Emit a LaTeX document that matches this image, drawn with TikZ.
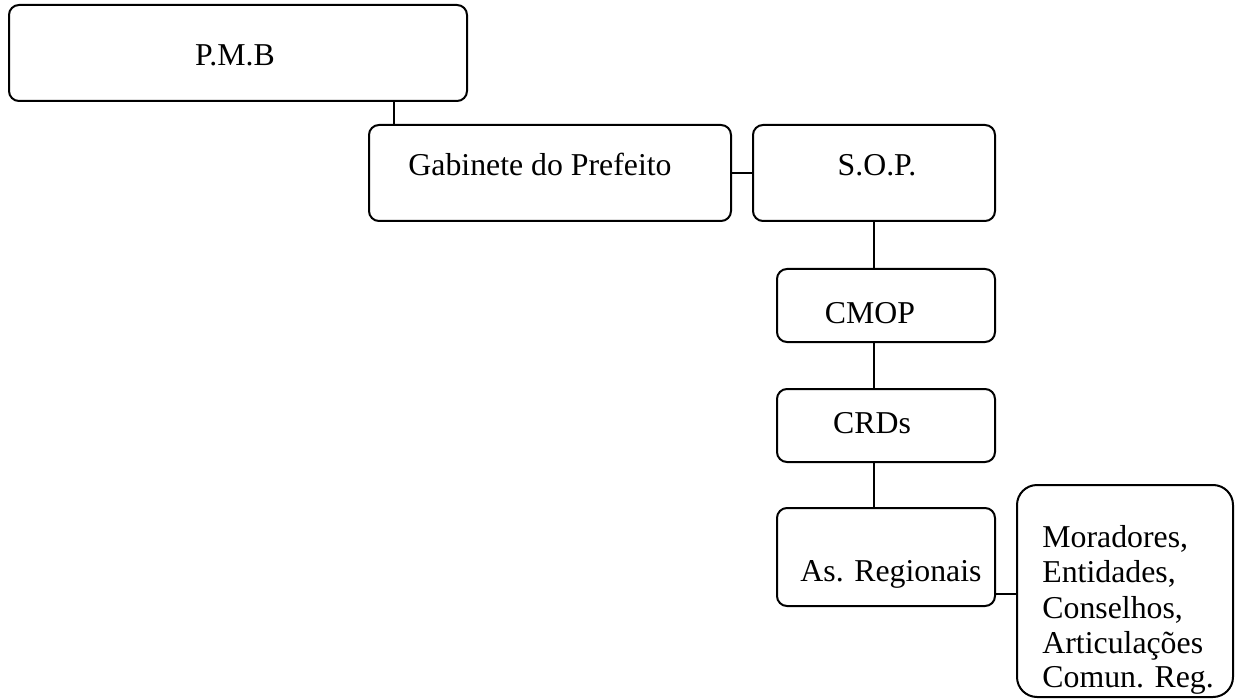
\documentclass[tikz,border=0pt]{standalone}
\usepackage{fontspec}
\setmainfont{Liberation Serif}
\begin{document}
\begin{tikzpicture}[x=0.5pt,y=-0.5pt,
  box/.style={draw,line width=1pt,rounded corners=5pt,inner sep=0pt},
  bigbox/.style={draw,line width=1pt,rounded corners=10pt,inner sep=0pt},
  txt/.style={anchor=base,inner sep=0pt,font=\fontsize{15.9}{17.5}\selectfont},
  ltxt/.style={anchor=base west,inner sep=0pt,font=\fontsize{15.9}{17.5}\selectfont},
  conn/.style={line width=1pt}]
\useasboundingbox (0,0) rectangle (1236,700);
% boxes
\node[box,minimum width=229pt,minimum height=48pt] (pmb) at (238,53) {};
\node[box,minimum width=181pt,minimum height=48pt] (gab) at (550,173) {};
\node[box,minimum width=121pt,minimum height=48pt] (sop) at (874,173) {};
\node[box,minimum width=109pt,minimum height=36.5pt] (cmop) at (886,305.5) {};
\node[box,minimum width=109pt,minimum height=36.5pt] (crds) at (886,425.5) {};
\node[box,minimum width=109pt,minimum height=49pt] (asr) at (886,557) {};
\node[bigbox,minimum width=108pt,minimum height=106pt] (mor) at (1125,591) {};
% texts
\node[txt] (tpmb) at (235,66) {P.M.B};
\node[txt] (tgab) at (540,176) {Gabinete do Prefeito};
\node[txt] (tsop) at (877,176) {S.O.P.};
\node[txt] (tcmop) at (870,323) {CMOP};
\node[txt] (tcrds) at (872,433) {CRDs};
\node[txt] (tasr) at (891,581) {As. Regionais};
\node[ltxt] (tm1) at (1042,547) {Moradores,};
\node[ltxt] (tm2) at (1042,582) {Entidades,};
\node[ltxt] (tm3) at (1042,618) {Conselhos,};
\node[ltxt] (tm4) at (1042,653) {Articulações};
\node[ltxt] (tm5) at (1042,687) {Comun. Reg.};
% connectors
\coordinate (c1) at (394,0);
\coordinate (c2) at (0,594);
\coordinate (c3) at (874,0);
\draw[conn] (pmb.south -| c1) -- (gab.north -| c1);
\draw[conn] (gab.east) -- (sop.west);
\draw[conn] (sop.south -| c3) -- (cmop.north -| c3);
\draw[conn] (cmop.south -| c3) -- (crds.north -| c3);
\draw[conn] (crds.south -| c3) -- (asr.north -| c3);
\draw[conn] (asr.east |- c2) -- (mor.west |- c2);
\end{tikzpicture}
\end{document}
